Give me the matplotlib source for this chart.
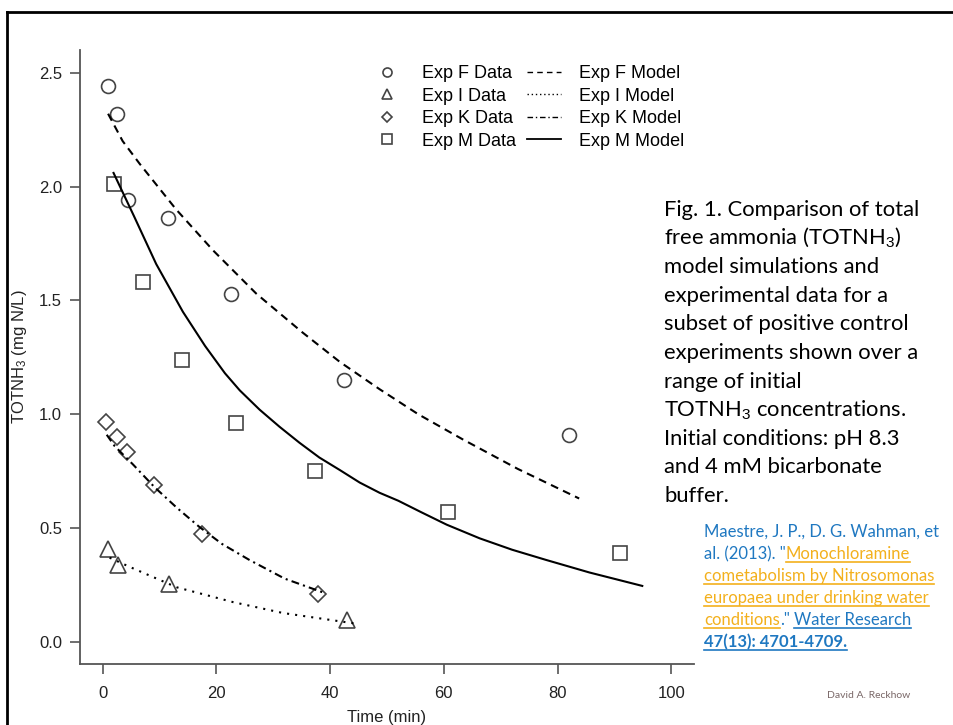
import numpy as np
import matplotlib
matplotlib.use("Agg")
import matplotlib.pyplot as plt
from matplotlib.lines import Line2D

plt.rcParams['font.family'] = ['Liberation Sans', 'DejaVu Sans']
plt.rcParams['mathtext.fontset'] = 'custom'
plt.rcParams['mathtext.rm'] = 'Liberation Sans'
plt.rcParams['mathtext.it'] = 'Liberation Sans:italic'

# data
f_t = [1.0, 2.5, 4.5, 11.5, 22.5, 42.5, 82.0]
f_y = [2.44, 2.32, 1.94, 1.86, 1.53, 1.15, 0.91]
i_t = [0.9, 2.6, 11.6, 42.9]
i_y = [0.41, 0.34, 0.255, 0.097]
k_t = [0.5, 2.5, 4.2, 9.1, 17.4, 37.8]
k_y = [0.967, 0.90, 0.835, 0.69, 0.475, 0.21]
m_t = [1.9, 7.0, 13.9, 23.4, 37.4, 60.8, 90.9]
m_y = [2.01, 1.58, 1.24, 0.96, 0.75, 0.57, 0.39]

f_mod_t = [0.94, 3.5, 6.5, 12.9, 19.4, 27.0, 35.1, 41.7, 48.7, 55.5, 63.3, 73.0, 83.8]
f_mod_y = [2.32, 2.20, 2.10, 1.90, 1.72, 1.53, 1.36, 1.23, 1.11, 1.00, 0.89, 0.76, 0.63]
i_mod_t = [1.2, 4.7, 13.0, 22.9, 31.7, 44.6]
i_mod_y = [0.37, 0.33, 0.24, 0.175, 0.127, 0.08]
k_mod_t = [0.7, 2.1, 5.3, 9.1, 13.0, 17.0, 21.0, 25.8, 32.0, 39.0]
k_mod_y = [0.91, 0.86, 0.78, 0.68, 0.59, 0.505, 0.43, 0.36, 0.278, 0.215]
m_mod_t = [1.9, 5.5, 9.4, 14.1, 18.0, 21.5, 24.1, 27.6, 31.1, 34.6, 38.1, 41.7,
           45.2, 48.7, 52.0, 56.0, 60.5, 66.3, 72.0, 78.0, 85.6, 94.9]
m_mod_y = [2.06, 1.87, 1.66, 1.45, 1.30, 1.18, 1.105, 1.02, 0.945, 0.875, 0.81, 0.755,
           0.70, 0.655, 0.62, 0.57, 0.515, 0.455, 0.405, 0.36, 0.305, 0.246]

x_ticks = [0, 20, 40, 60, 80, 100]
y_ticks = [0.0, 0.5, 1.0, 1.5, 2.0, 2.5]

caption = ["Fig. 1. Comparison of total",
           "free ammonia (TOTNH$_3$)",
           "model simulations and",
           "experimental data for a",
           "subset of positive control",
           "experiments shown over a",
           "range of initial",
           "TOTNH$_3$ concentrations.",
           "Initial conditions: pH 8.3",
           "and 4 mM bicarbonate",
           "buffer."]

BLUE = '#1f78c1'
ORANGE = '#f3b01c'
# (text, colour, underline, bold, space before)
citation = [
    [("Maestre, J. P., D. G. Wahman, et", BLUE, False, False, 0)],
    [("al. (2013). \"", BLUE, False, False, 0), ("Monochloramine", ORANGE, True, False, 0)],
    [("cometabolism by Nitrosomonas", ORANGE, True, False, 0)],
    [("europaea under drinking water", ORANGE, True, False, 0)],
    [("conditions", ORANGE, True, False, 0), (".\"", BLUE, False, False, 0),
     ("Water Research", BLUE, True, False, 1)],
    [("47(13): 4701-4709.", BLUE, True, True, 0)],
]

W, H = 954, 725
fig = plt.figure(figsize=(W / 100, H / 100), dpi=100)
ax = fig.add_axes([80 / W, 1 - 664 / H, 614 / W, 614 / H])

mk = dict(linestyle='none', markerfacecolor='none', markeredgecolor='#444444', markeredgewidth=1.2)
ax.plot(f_t, f_y, marker='o', markersize=10, **mk)
ax.plot(i_t, i_y, marker='^', markersize=11, **mk)
ax.plot(k_t, k_y, marker='D', markersize=8.5, **mk)
ax.plot(m_t, m_y, marker='s', markersize=9.5, **mk)

ax.plot(f_mod_t, f_mod_y, color='black', lw=1.5, dashes=(3.8, 2.6))
ax.plot(i_mod_t, i_mod_y, color='black', lw=1.5, dashes=(1, 2.9))
ax.plot(k_mod_t, k_mod_y, color='black', lw=1.5, dashes=(3.8, 2, 1, 2))
ax.plot(m_mod_t, m_mod_y, color='black', lw=1.5)

ax.set_xlim(-4, 104)
ax.set_ylim(-0.097, 2.6)
ax.set_xticks(x_ticks)
ax.set_yticks(y_ticks)
ax.set_yticklabels([f"{v:.1f}" for v in y_ticks])
for s in ['top', 'right']:
    ax.spines[s].set_visible(False)
for s in ['left', 'bottom']:
    ax.spines[s].set_color('#555555')
    ax.spines[s].set_linewidth(1.3)
ax.tick_params(direction='out', length=7, width=1.2, color='#555555',
               labelsize=12, labelcolor='#222222', pad=6)
ax.tick_params(axis='x', pad=9)
ax.set_xlabel("Time (min)", fontsize=12, color='#222222', labelpad=6)
ax.set_ylabel("TOTNH$_3$ (mg N/L)", fontsize=12, color='#222222', labelpad=7)

handles = [
    Line2D([], [], marker='o', markersize=6.5, **mk),
    Line2D([], [], marker='^', markersize=7, **mk),
    Line2D([], [], marker='D', markersize=5.5, **mk),
    Line2D([], [], marker='s', markersize=6.5, **mk),
    Line2D([], [], color='black', lw=1, dashes=(4, 3)),
    Line2D([], [], color='black', lw=1, dashes=(1, 2)),
    Line2D([], [], color='black', lw=1, dashes=(4, 2, 1, 2)),
    Line2D([], [], color='black', lw=1.3),
]
labels = ["Exp F Data", "Exp I Data", "Exp K Data", "Exp M Data",
          "Exp F Model", "Exp I Model", "Exp K Model", "Exp M Model"]
ax.legend(handles, labels, ncol=2, loc='upper left', bbox_to_anchor=(0.472, 0.975),
          frameon=False, fontsize=13, handlelength=1.9, handletextpad=1.0,
          columnspacing=0.6, labelspacing=0.3, borderpad=0, borderaxespad=0)

# slide border
fig.add_artist(Line2D([7 / W, 1], [1 - 11.5 / H] * 2, color='black', lw=2))
fig.add_artist(Line2D([7.5 / W] * 2, [0, 1 - 11.5 / H], color='black', lw=2))

# caption
for i, line in enumerate(caption):
    fig.text(664 / W, 1 - (216 + 28.6 * i) / H, line, fontsize=15.8, family='Lato',
             color='black', va='baseline', ha='left')

# citation with coloured / underlined runs
r = fig.canvas.get_renderer()
probe = fig.text(0, 0, "a a", fontsize=12, family='Lato')
probe2 = fig.text(0, 0, "aa", fontsize=12, family='Lato')
sp = probe.get_window_extent(r).width - probe2.get_window_extent(r).width
probe.remove()
probe2.remove()
for i, parts in enumerate(citation):
    x = 704
    yb = H - (537 + 22 * i)
    for text, col, ul, bold, gap in parts:
        x += gap * sp
        t = fig.text(x / W, yb / H, text, fontsize=12, family='Lato', color=col,
                     weight='bold' if bold else 'normal', va='baseline', ha='left')
        bb = t.get_window_extent(r)
        if ul:
            fig.add_artist(Line2D([bb.x0 / W, bb.x1 / W], [(yb - 3) / H] * 2, color=col, lw=1.2))
        x = bb.x1

fig.text(869 / W, 1 - 696 / H, "David A. Reckhow", fontsize=7.5, family='Lato',
         color='#7a6868', ha='center', va='center')

fig.savefig("out.png", dpi=100)
